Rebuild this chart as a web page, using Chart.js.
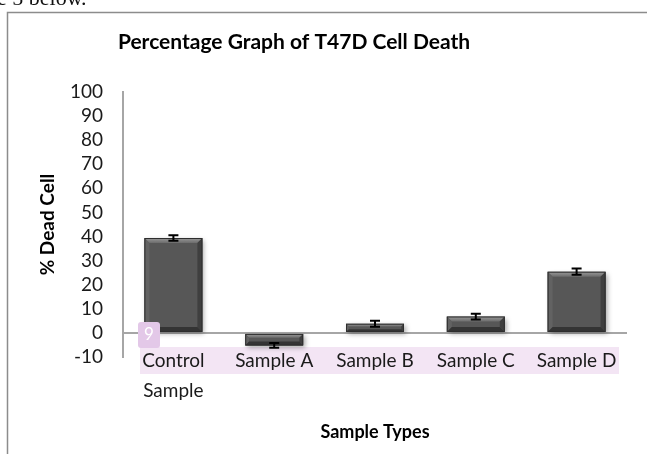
<!DOCTYPE html>
<html>
<head>
<meta charset="utf-8">
<script src="https://cdn.jsdelivr.net/npm/chart.js@4"></script>
<style>
    html, body {
        margin: 0;
        padding: 0;
        background: #ffffff;
    }

    #wrap {
        width: 647px;
        height: 454px;
        position: relative;
    }
</style>
</head>
<body>
<div id="wrap">
    <canvas id="deathChart" width="647" height="454"></canvas>
</div>

<script>
/* ==========================================
   DATA
========================================== */

const categories = [["Control", "Sample"], "Sample A", "Sample B", "Sample C", "Sample D"];
const deadCellPercent = [39.4, -5.2, 3.8, 6.8, 25.4];
const errorMargin = [1.1, 1.0, 1.2, 1.2, 1.3];
const yTicks = [-10, 0, 10, 20, 30, 40, 50, 60, 70, 80, 90, 100];

const FONT = "Lato, 'Open Sans', sans-serif";

/* ==========================================
   PAGE DECOR (frame, highlight, note text)
========================================== */

const pageDecor = {
    id: "pageDecor",

    beforeDraw(chart) {
        const ctx = chart.ctx;
        ctx.save();

        // cut-off line of document text above the figure
        ctx.fillStyle = "#111";
        ctx.font = "22px 'Liberation Serif', serif";
        ctx.textBaseline = "alphabetic";
        ctx.fillText("e 5 below.", -3, 5);

        // figure frame
        ctx.strokeStyle = "#8c8c8c";
        ctx.lineWidth = 1.5;
        ctx.beginPath();
        ctx.moveTo(7.5, 460);
        ctx.lineTo(7.5, 12.5);
        ctx.lineTo(650, 12.5);
        ctx.stroke();

        // pink text highlight behind the category labels
        ctx.fillStyle = "#f3e5f4";
        ctx.fillRect(140, 347, 479, 27);

        ctx.restore();
    },

    afterDraw(chart) {
        const ctx = chart.ctx;
        ctx.save();

        // little "9" marker box
        ctx.fillStyle = "#e3c8e8";
        ctx.beginPath();
        ctx.roundRect(138, 322, 22, 26, 3);
        ctx.fill();
        ctx.fillStyle = "#ffffff";
        ctx.font = "17px " + FONT;
        ctx.textAlign = "center";
        ctx.textBaseline = "middle";
        ctx.fillText("9", 149, 335);

        // chart title
        ctx.fillStyle = "#000";
        ctx.font = "bold 21px " + FONT;
        ctx.fillText("Percentage Graph of T47D Cell Death", 294, 42);

        ctx.restore();
    }
};

/* ==========================================
   BAR SHADOW + BEVEL
========================================== */

const barBevel = {
    id: "barBevel",

    beforeDatasetsDraw(chart) {
        const ctx = chart.ctx;
        ctx.save();
        ctx.shadowColor = "rgba(0,0,0,0.35)";
        ctx.shadowBlur = 5;
        ctx.shadowOffsetX = 2;
        ctx.shadowOffsetY = 2;
    },

    afterDatasetsDraw(chart) {
        const ctx = chart.ctx;
        ctx.restore();

        const meta = chart.getDatasetMeta(0);
        const b = 5;

        ctx.save();
        meta.data.forEach(bar => {
            const left = bar.x - bar.width / 2;
            const right = bar.x + bar.width / 2;
            const top = Math.min(bar.y, bar.base);
            const bottom = Math.max(bar.y, bar.base);
            const bv = Math.min(b, (bottom - top) / 3);

            // top bevel
            const g = ctx.createLinearGradient(0, top, 0, top + bv);
            g.addColorStop(0, "#9a9a9a");
            g.addColorStop(1, "#6c6c6c");
            ctx.fillStyle = g;
            ctx.beginPath();
            ctx.moveTo(left, top);
            ctx.lineTo(right, top);
            ctx.lineTo(right - bv, top + bv);
            ctx.lineTo(left + bv, top + bv);
            ctx.closePath();
            ctx.fill();

            // right side
            ctx.fillStyle = "#3f3f3f";
            ctx.beginPath();
            ctx.moveTo(right, top);
            ctx.lineTo(right, bottom);
            ctx.lineTo(right - bv, bottom - bv);
            ctx.lineTo(right - bv, top + bv);
            ctx.closePath();
            ctx.fill();

            // left side
            ctx.fillStyle = "#626262";
            ctx.beginPath();
            ctx.moveTo(left, top);
            ctx.lineTo(left + bv, top + bv);
            ctx.lineTo(left + bv, bottom - bv);
            ctx.lineTo(left, bottom);
            ctx.closePath();
            ctx.fill();

            // bottom
            ctx.fillStyle = "#343434";
            ctx.beginPath();
            ctx.moveTo(left, bottom);
            ctx.lineTo(left + bv, bottom - bv);
            ctx.lineTo(right - bv, bottom - bv);
            ctx.lineTo(right, bottom);
            ctx.closePath();
            ctx.fill();

            ctx.strokeStyle = "#2e2e2e";
            ctx.lineWidth = 1;
            ctx.strokeRect(left + 0.5, top + 0.5, right - left - 1, bottom - top - 1);
        });
        ctx.restore();
    }
};

/* ==========================================
   ERROR BARS
========================================== */

const errorBars = {
    id: "errorBars",

    afterDatasetsDraw(chart) {
        const ctx = chart.ctx;
        const yScale = chart.scales.y;
        const meta = chart.getDatasetMeta(0);
        const cap = 5;

        ctx.save();
        ctx.strokeStyle = "#000";
        ctx.lineWidth = 2;

        meta.data.forEach((bar, i) => {
            const v = deadCellPercent[i];
            const hi = yScale.getPixelForValue(v + errorMargin[i]);
            const lo = yScale.getPixelForValue(v - errorMargin[i]);

            ctx.beginPath();
            ctx.moveTo(bar.x, hi);
            ctx.lineTo(bar.x, lo);
            ctx.moveTo(bar.x - cap, hi);
            ctx.lineTo(bar.x + cap, hi);
            ctx.moveTo(bar.x - cap, lo);
            ctx.lineTo(bar.x + cap, lo);
            ctx.stroke();
        });

        ctx.restore();
    }
};

/* ==========================================
   CHART
========================================== */

new Chart(document.getElementById("deathChart"), {
    type: "bar",

    data: {
        labels: categories,
        datasets: [{
            data: deadCellPercent,
            backgroundColor: "#575757",
            borderWidth: 0,
            barPercentage: 0.575,
            categoryPercentage: 1
        }]
    },

    options: {
        responsive: false,
        animation: false,
        devicePixelRatio: 1,

        layout: {
            padding: { top: 92, right: 20, bottom: 11, left: 0 }
        },

        plugins: {
            legend: { display: false },
            tooltip: { enabled: false }
        },

        scales: {
            x: {
                grid: { display: false },
                border: { display: false },
                ticks: {
                    // mirrored so the labels can sit a little above the
                    // bottom of the plot, like the original
                    mirror: true,
                    color: "#1a1a1a",
                    padding: -19,
                    font: { family: FONT, size: 19, lineHeight: 1.55 }
                },
                title: {
                    display: true,
                    text: "Sample Types",
                    color: "#000",
                    padding: { top: 12, bottom: 0 },
                    font: { family: FONT, size: 18, weight: "bold" }
                },
                afterFit(scale) {
                    scale.height = 86;
                }
            },

            y: {
                min: -10,
                max: 100,
                afterBuildTicks(scale) {
                    scale.ticks = yTicks.map(v => ({ value: v }));
                },
                grid: {
                    drawTicks: false,
                    lineWidth: 2,
                    color: ctx => (ctx.tick && ctx.tick.value === 0 ? "#a6a6a6" : "transparent")
                },
                border: { display: true, color: "#a6a6a6", width: 2 },
                ticks: {
                    autoSkip: false,
                    color: "#1a1a1a",
                    padding: 20,
                    font: { family: FONT, size: 19 }
                },
                title: {
                    display: true,
                    text: "% Dead Cell",
                    color: "#000",
                    padding: { top: 36, bottom: 0 },
                    font: { family: FONT, size: 19, weight: "bold" }
                },
                afterFit(scale) {
                    scale.width = 123;
                }
            }
        }
    },

    plugins: [pageDecor, barBevel, errorBars]
});
</script>
</body>
</html>
